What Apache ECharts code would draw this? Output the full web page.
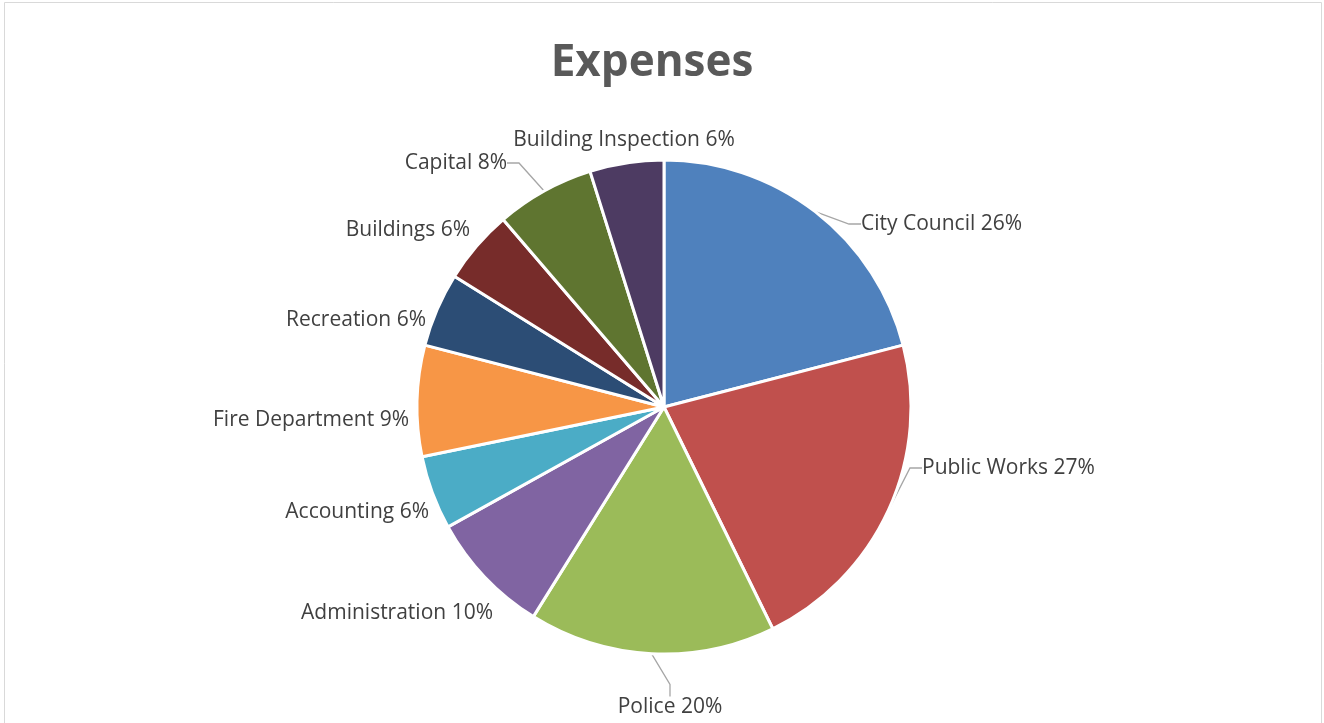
<!DOCTYPE html>
<html>
<head>
<meta charset="utf-8">
<title>Expenses</title>
<script src="https://cdn.jsdelivr.net/npm/echarts@6/dist/echarts.min.js"></script>
<style>
  html, body { margin: 0; padding: 0; background: #ffffff; }
  #chart { width: 1324px; height: 723px; }
</style>
</head>
<body>
<div id="chart"></div>
<script>
// Expense categories, in clockwise order starting at 12 o'clock
const categories = [
  'City Council', 'Public Works', 'Police', 'Administration', 'Accounting',
  'Fire Department', 'Recreation', 'Buildings', 'Capital', 'Building Inspection'
];
// Share of expenses, in percent, as printed on each label
const shares = [26, 27, 20, 10, 6, 9, 6, 6, 8, 6];

// Office-style slice colours
const sliceColors = [
  '#4F81BD', '#C0504D', '#9BBB59', '#8064A2', '#4BACC6',
  '#F79646', '#2C4D75', '#772C2A', '#5F7530', '#4D3B62'
];
// Which labels get a leader line
const showLeader = [true, true, true, false, false, false, false, false, true, false];
// Label anchor: [x, y, align]
const labelSpots = [
  [861, 224, 'left'],
  [922, 468, 'left'],
  [670, 707, 'center'],
  [493, 613, 'right'],
  [429, 512, 'right'],
  [409, 420, 'right'],
  [426, 320, 'right'],
  [470, 230, 'right'],
  [507, 163, 'right'],
  [624, 140, 'center']
];

const pieData = categories.map((name, i) => ({
  name: name,
  value: shares[i],
  itemStyle: { color: sliceColors[i] },
  labelLine: { show: showLeader[i] }
}));

const chart = echarts.init(document.getElementById('chart'), null, { renderer: 'canvas' });

chart.setOption({
  backgroundColor: '#ffffff',
  animation: false,
  title: {
    text: 'Expenses',
    left: 647,
    top: 36,
    textAlign: 'center',
    textStyle: {
      fontFamily: '"Open Sans", sans-serif',
      fontWeight: 'bold',
      fontSize: 44,
      color: '#595959'
    }
  },
  graphic: [{
    type: 'rect',
    silent: true,
    shape: { x: 4.5, y: 2.5, width: 1317, height: 740 },
    style: { fill: 'none', stroke: '#D9D9D9', lineWidth: 1 }
  }],
  series: [{
    type: 'pie',
    center: [664, 407],
    radius: 247,
    startAngle: 90,
    clockwise: true,
    avoidLabelOverlap: false,
    data: pieData,
    itemStyle: { borderColor: '#ffffff', borderWidth: 3 },
    label: {
      show: true,
      position: 'outside',
      formatter: p => p.name + ' ' + p.value + '%',
      fontFamily: '"Open Sans", sans-serif',
      fontSize: 21,
      color: '#404040'
    },
    labelLine: {
      length: 10,
      length2: 12,
      lineStyle: { color: '#A6A6A6', width: 1.3 }
    },
    labelLayout: function (params) {
      const s = labelSpots[params.dataIndex];
      return { x: s[0], y: s[1], align: s[2], verticalAlign: 'middle' };
    },
    emphasis: { disabled: true }
  }]
});
</script>
</body>
</html>
